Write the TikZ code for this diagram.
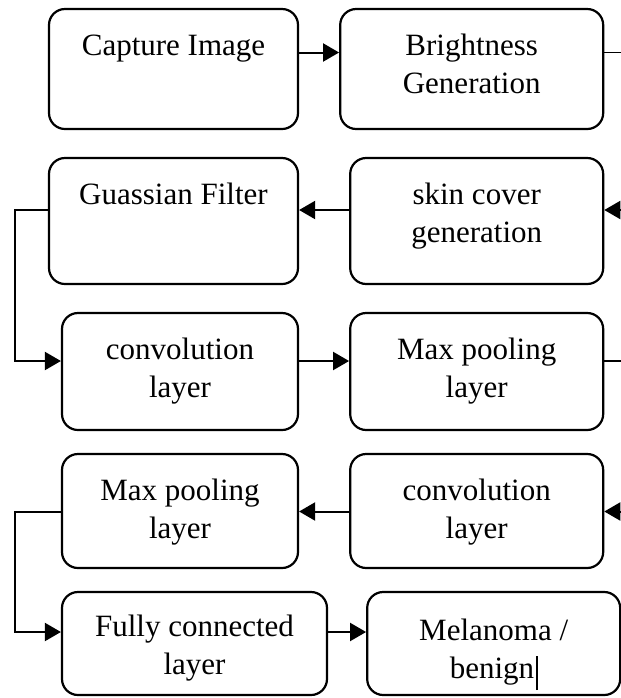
\documentclass[tikz,border=0pt]{standalone}
\usepackage{fontspec}
\setmainfont{Liberation Serif}
\usetikzlibrary{positioning,arrows.meta}

\newcommand{\boxfont}{\fontsize{15.5}{19}\selectfont}
\newcommand{\toptext}[4][23pt]{\parbox[c][#3][t]{#2}{\centering\rule{0pt}{#1}#4}}

\begin{document}
\begin{tikzpicture}[
x=0.5pt, y=-0.5pt,
block/.style={draw, line width=1.1pt, rounded corners=8pt, inner sep=0pt, font=\boxfont},
arr/.style={-{Triangle[length=8pt,width=9pt]}, line width=1pt},
stub/.style={line width=0.6pt}
]
\useasboundingbox (0,0) rectangle (621,698);
\node[block] (cap) at (173.5,69) {\toptext{124.5pt}{60pt}{Capture Image}};
\node[block, right=20pt of cap] (bright) {\toptext{131.5pt}{60pt}{Brightness\\Generation}};
\node[block] (gauss) at (173.5,221) {\toptext{124.5pt}{63pt}{Guassian Filter}};
\node[block, right=25pt of gauss] (skin) {\toptext{126.5pt}{63pt}{skin cover\\generation}};
\node[block] (conv1) at (180,371.5) {\toptext{118pt}{58.5pt}{convolution\\layer}};
\node[block, right=25pt of conv1] (pool1) {\toptext{126.5pt}{58.5pt}{Max pooling\\layer}};
\node[block] (pool2) at (180,511) {\toptext{118pt}{57pt}{Max pooling\\layer}};
\node[block, right=25pt of pool2] (conv2) {\toptext{126.5pt}{57pt}{convolution\\layer}};
\node[block] (fc) at (194.5,643.5) {\toptext[22pt]{132.5pt}{51.5pt}{Fully connected\\layer}};
\node[block, right=19pt of fc] (mel) {\toptext[24pt]{126.5pt}{51.5pt}{Melanoma /\\benign\kern1pt\rule[-6pt]{0.7pt}{17pt}}};
% line heights and loose ends
\coordinate (e1) at (621,52.5);
\coordinate (e2) at (621,210);
\coordinate (e3) at (621,361);
\coordinate (e4) at (621,511.5);
\coordinate (w3) at (15,361);
\coordinate (w5) at (15,632);
\draw[arr] (cap.east |- e1) -- (bright.west |- e1);
\draw[stub] (bright.east |- e1) -- (e1);
\draw[arr] (e2) -- (skin.east |- e2);
\draw[arr] (skin.west |- e2) -- (gauss.east |- e2);
\draw[arr] (gauss.west |- e2) -| (w3) -- (conv1.west |- w3);
\draw[arr] (conv1.east |- w3) -- (pool1.west |- w3);
\draw[stub] (pool1.east |- e3) -- (e3);
\draw[arr] (e4) -- (conv2.east |- e4);
\draw[arr] (conv2.west |- e4) -- (pool2.east |- e4);
\draw[arr] (pool2.west |- e4) -| (w5) -- (fc.west |- w5);
\draw[arr] (fc.east |- w5) -- (mel.west |- w5);
\end{tikzpicture}
\end{document}
